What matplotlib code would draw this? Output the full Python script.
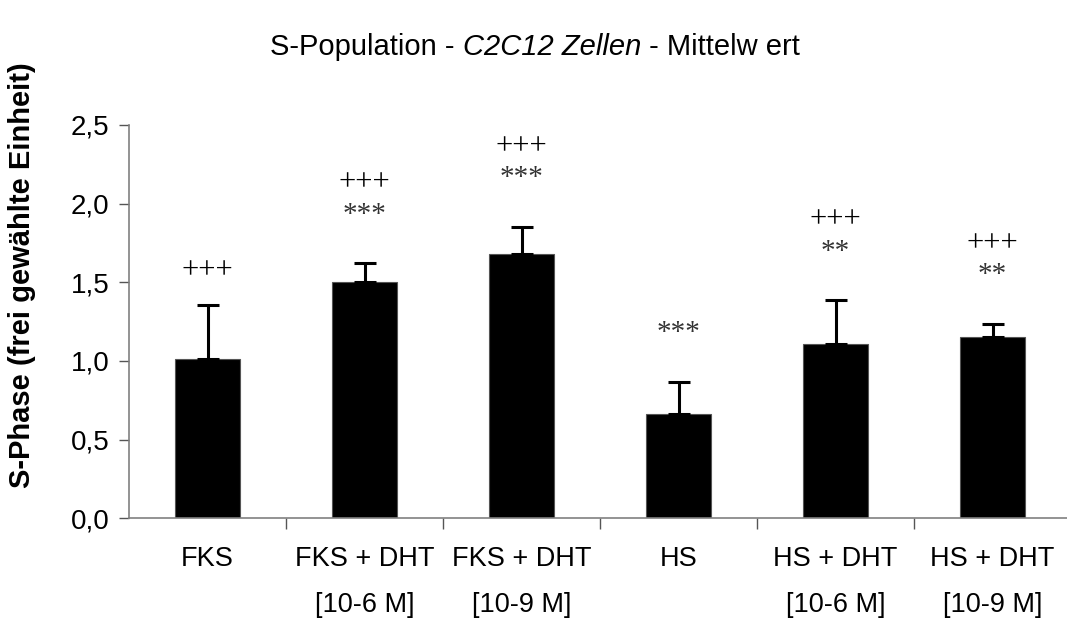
import matplotlib
matplotlib.use("Agg")
import matplotlib.pyplot as plt
import numpy as np

# Gruppen, Mittelwerte und Standardabweichungen (nur nach oben)
groups = ["FKS", "FKS + DHT\n[10-6 M]", "FKS + DHT\n[10-9 M]",
          "HS", "HS + DHT\n[10-6 M]", "HS + DHT\n[10-9 M]"]
means = [1.01, 1.50, 1.68, 0.66, 1.11, 1.15]
errors = [0.345, 0.12, 0.17, 0.205, 0.275, 0.085]
plus_marks = ["+++", "+++", "+++", "", "+++", "+++"]
star_marks = ["", "***", "***", "***", "**", "**"]
yticks = [0.0, 0.5, 1.0, 1.5, 2.0, 2.5]

sans = ["Liberation Sans", "DejaVu Sans"]
serif = ["Liberation Serif", "DejaVu Serif"]

fig = plt.figure(figsize=(10.67, 6.19), dpi=100)
ax = fig.add_axes([129 / 1067, 1 - 518.3 / 619, 942 / 1067, (518.3 - 125) / 619])

x = np.arange(len(groups))
ax.bar(x, means, width=0.42, color="black", edgecolor="#555555", linewidth=0.8, zorder=2)
ax.errorbar(x, means, yerr=[np.zeros(len(x)), errors], fmt="none",
            ecolor="black", elinewidth=2.2, capsize=8, capthick=2.2, zorder=3)

# Signifikanzzeichen ueber den Fehlerbalken
for xi, m, e, p, s in zip(x, means, errors, plus_marks, star_marks):
    top = m + e
    if s:
        ax.text(xi, top + 0.31, s, ha="center", va="center",
                fontsize=21, family=serif, color="#333333")
        ax.text(xi, top + 0.51, p, ha="center", va="center",
                fontsize=22, family=serif)
    elif p:
        ax.text(xi, top + 0.22, p, ha="center", va="center",
                fontsize=22, family=serif)

ax.set_xlim(-0.5, 5.5)
ax.set_ylim(0, 2.5)
ax.set_yticks(yticks)
ax.set_yticklabels([f"{v:.1f}".replace(".", ",") for v in yticks],
                   fontsize=20, family=sans)

# Kategorienamen mittig, Teilstriche zwischen den Gruppen
ax.set_xticks(x)
ax.set_xticklabels(groups, fontsize=19.5, family=sans, linespacing=2.0)
ax.tick_params(axis="x", which="major", length=0, pad=20)
ax.set_xticks(np.arange(0.5, 6.0, 1.0), minor=True)
ax.tick_params(axis="x", which="minor", length=8, width=1, color="#555555", direction="out")
ax.tick_params(axis="y", length=7, width=1, color="#555555", direction="out", pad=7)

for side in ["top", "right"]:
    ax.spines[side].set_visible(False)
for side in ["left", "bottom"]:
    ax.spines[side].set_color("#808080")
    ax.spines[side].set_linewidth(1.2)

fig.text(22 / 1067, 1 - 275 / 619, "S-Phase (frei gewählte Einheit)", rotation=90,
         ha="center", va="center", fontsize=21, fontweight="bold", family=sans)

# Titel aus drei Teilen, der mittlere kursiv
renderer = fig.canvas.get_renderer()
parts = [("S-Population - ", "normal"), ("C2C12 Zellen", "italic"), (" - Mittelw ert", "normal")]
title_y = 1 - 47 / 619
texts = [fig.text(0, title_y, t, ha="left", va="center", fontsize=21, family=sans, style=st)
         for t, st in parts]
widths = [t.get_window_extent(renderer).width for t in texts]
start = 535 - sum(widths) / 2
for t, w in zip(texts, widths):
    t.set_x(start / 1067)
    start += w

fig.savefig("out.png", dpi=100)
